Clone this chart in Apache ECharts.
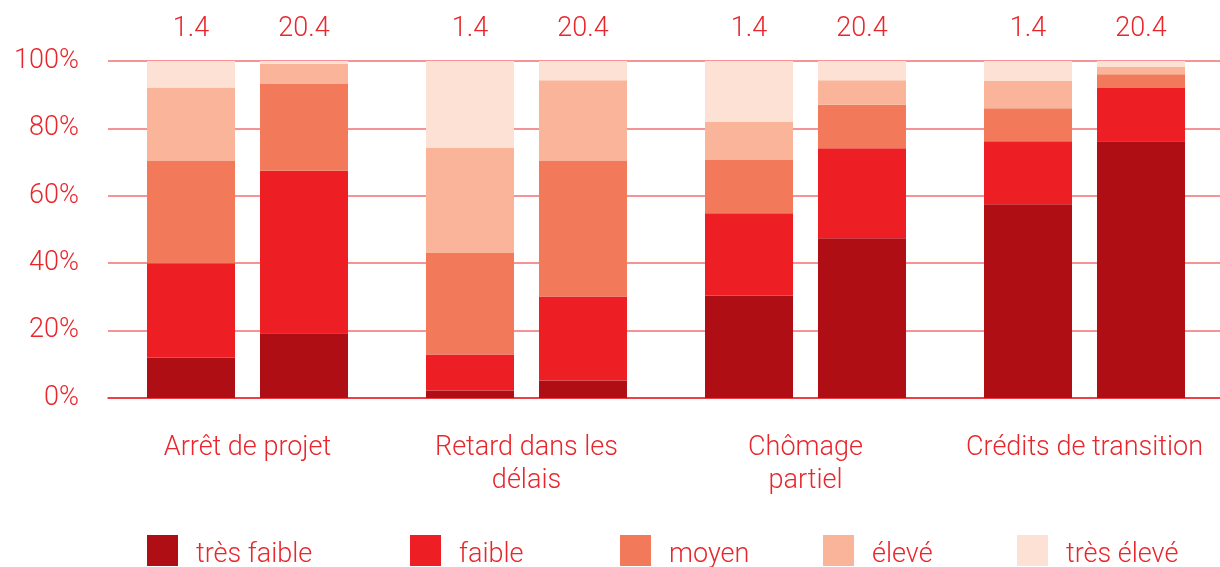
<!DOCTYPE html>
<html><head><meta charset="utf-8">
<script src="https://cdn.jsdelivr.net/npm/echarts@6/dist/echarts.min.js"></script>
<style>html,body{margin:0;padding:0;background:#fff;overflow:hidden}#c{width:1232px;height:567px}</style>
</head><body><div id="c"></div>
<script>
const categories = ['Arrêt de projet', 'Retard dans les\ndélais', 'Chômage\npartiel', 'Crédits de transition'];
const barLabels = ['1.4', '20.4'];
const levels = ['très faible', 'faible', 'moyen', 'élevé', 'très élevé'];

// bar "1.4" (share per level, %)
const tresFaible14 = [12.0, 2.2, 30.4, 57.5];
const faible14     = [28.0, 10.7, 24.4, 18.7];
const moyen14      = [30.3, 30.1, 15.8, 9.8];
const eleve14      = [21.8, 31.2, 11.3, 8.1];
const tresEleve14  = [7.9, 25.8, 18.1, 5.9];

// bar "20.4"
const tresFaible204 = [19.2, 5.2, 47.4, 76.2];
const faible204     = [48.2, 24.9, 26.7, 15.8];
const moyen204      = [25.8, 40.2, 12.9, 4.1];
const eleve204      = [5.9, 24.0, 7.3, 2.1];
const tresEleve204  = [0.9, 5.7, 5.7, 1.8];

const colors = ['#B00E15', '#ED1F24', '#F27A5B', '#F9B49A', '#FDE1D4'];
const red = '#E8262C';
const font = 'Roboto';
const fw = 300;

const sets = [
  [tresFaible14, faible14, moyen14, eleve14, tresEleve14],
  [tresFaible204, faible204, moyen204, eleve204, tresEleve204]
];

const series = [];
sets.forEach((set, si) => {
  set.forEach((vals, li) => {
    series.push({
      name: levels[li],
      type: 'bar',
      stack: 's' + si,
      data: vals,
      barWidth: 88,
      barGap: '28.4%',
      itemStyle: { color: colors[li] },
      label: li === 4 ? {
        show: true, position: 'top', distance: 18,
        formatter: () => barLabels[si],
        color: red, fontFamily: font, fontWeight: fw, fontSize: 27
      } : { show: false }
    });
  });
});

const legendLefts = [147, 410, 620, 823, 1017];
const legends = levels.map((lv, i) => ({
  data: [lv], left: legendLefts[i], top: 535, padding: 0,
  itemWidth: 31, itemHeight: 31, icon: 'rect',
  selectedMode: false,
  formatter: n => '{t|' + n + '}',
  textStyle: {
    color: red, fontFamily: font, fontWeight: fw, fontSize: 27,
    rich: { t: { color: red, fontFamily: font, fontWeight: fw, fontSize: 27, padding: [10, 0, 0, 13] } }
  }
}));

const chart = echarts.init(document.getElementById('c'), null, { renderer: 'canvas' });
chart.setOption({
  animation: false,
  grid: { left: 108, width: 1116, top: 61, height: 337 },
  legend: legends,
  xAxis: {
    type: 'category', data: categories,
    axisLine: { lineStyle: { color: red, width: 1.5 } },
    axisTick: { show: false },
    axisLabel: { interval: 0, color: red, fontFamily: font, fontWeight: fw, fontSize: 27, lineHeight: 33, margin: 34 }
  },
  yAxis: {
    type: 'value', min: 0, max: 100, interval: 20,
    axisLine: { show: false }, axisTick: { show: false },
    splitLine: { lineStyle: { color: '#F07075', width: 1.5 } },
    axisLabel: { color: red, fontFamily: font, fontWeight: fw, fontSize: 27, margin: 29, formatter: v => v + '%', padding: [0, 0, 8, 0] }
  },
  series
});
</script></body></html>
